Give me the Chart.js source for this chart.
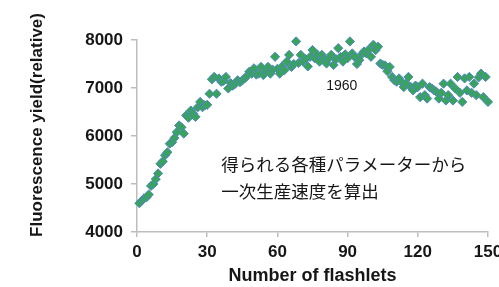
<!DOCTYPE html>
<html>
<head>
<meta charset="utf-8">
<script src="https://cdn.jsdelivr.net/npm/chart.js@4"></script>
<style>
html,body{margin:0;padding:0;background:#fff;}
#wrap{width:499px;height:287px;position:relative;}
</style>
</head>
<body>
<div id="wrap"><canvas id="c" width="499" height="287"></canvas></div>
<script>
// Data
const flashlets = [
  1,2,3,4,5,6,7,8,9,10,11,12,13,14,15,16,17,18,19,20,21,22,23,24,25,26,27,28,29,30,
  31,32,33,34,35,36,37,38,39,40,41,42,43,44,45,46,47,48,49,50,51,52,53,54,55,56,57,58,59,60,
  61,62,63,64,65,66,67,68,69,70,71,72,73,74,75,76,77,78,79,80,81,82,83,84,85,86,87,88,89,90,
  91,92,93,94,95,96,97,98,99,100,101,102,103,104,105,106,107,108,109,110,111,112,113,114,115,116,117,118,119,120,
  121,122,123,124,125,126,127,128,129,130,131,132,133,134,135,136,137,138,139,140,141,142,143,144,145,146,147,148,149,150
];
const fluorescence = [
  4600,4650,4700,4720,4780,4960,5000,5100,5220,5420,5470,5600,5660,5840,5870,5960,6080,6220,6180,6050,6430,6380,6530,6470,6400,6600,6710,6600,6640,6650,
  6880,7180,7230,6880,7200,7130,7150,7230,6990,7100,7050,7090,7160,7120,7160,7200,7250,7340,7300,7410,7280,7300,7440,7270,7350,7440,7300,7380,7650,7400,
  7300,7450,7370,7550,7690,7440,7500,7970,7520,7690,7550,7600,7450,7650,7790,7620,7700,7550,7690,7600,7510,7620,7690,7480,7600,7830,7650,7550,7700,7620,
  7970,7720,7650,7500,7580,7700,7760,7720,7800,7650,7900,7790,7860,7510,7480,7470,7350,7440,7230,7160,7130,7200,7130,7020,7100,7230,7020,6950,7050,7020,
  6810,7090,6850,6780,7020,6990,6950,6920,6780,6900,7090,6740,6850,7090,6740,6990,7230,6900,6710,7200,6950,7230,6900,7090,6850,7220,7300,6810,7230,6710
];
const xTicks = [0,30,60,90,120,150];
const yTicks = [4000,5000,6000,7000,8000];
const xTitle = 'Number of flashlets';
const yTitle = 'Fluorescence yield(relative)';
const noteLabel = '1960';
const noteLines = ['得られる各種パラメーターから','一次生産速度を算出'];

const points = flashlets.map((x,i)=>({x:x,y:fluorescence[i]}));

const textPlugin = {
  id:'texts',
  afterDraw(chart){
    const ctx = chart.ctx;
    const xs = chart.scales.x, ys = chart.scales.y;
    ctx.save();
    ctx.translate(37, 125);
    ctx.rotate(-Math.PI/2);
    ctx.font = 'bold 17px "Liberation Sans", Arial, sans-serif';
    ctx.fillStyle = '#161616';
    ctx.textAlign = 'center';
    ctx.textBaseline = 'middle';
    ctx.fillText(yTitle, 0, 0);
    ctx.restore();

    ctx.save();
    ctx.fillStyle = '#161616';
    ctx.textBaseline = 'middle';
    ctx.font = '14px "Liberation Sans", Arial, sans-serif';
    ctx.textAlign = 'center';
    ctx.fillText(noteLabel, xs.getPixelForValue(87.5), ys.getPixelForValue(7040));
    ctx.font = '17.5px "Noto Sans CJK JP", sans-serif';
    ctx.textAlign = 'left';
    ctx.fillText(noteLines[0], xs.getPixelForValue(36), ys.getPixelForValue(5400));
    ctx.fillText(noteLines[1], xs.getPixelForValue(36), ys.getPixelForValue(4855));
    ctx.restore();
  }
};

new Chart(document.getElementById('c'), {
  type:'scatter',
  data:{datasets:[{
    data:points,
    pointStyle:'rectRot',
    radius:4.6,
    hoverRadius:4.6,
    backgroundColor:'#38a45a',
    borderColor:'#5286c4',
    borderWidth:1,
    clip:false
  }]},
  options:{
    responsive:false,
    animation:false,
    devicePixelRatio:1,
    layout:{padding:{left:23,right:11,top:40,bottom:0}},
    plugins:{legend:{display:false},tooltip:{enabled:false}},
    scales:{
      x:{
        type:'linear', min:0, max:150,
        afterBuildTicks(s){ s.ticks = xTicks.map(v=>({value:v})); },
        afterFit(s){ s.height = 55; s.paddingLeft = 0; s.paddingRight = 0; },
        border:{color:'#bdbdbd', width:1.5},
        grid:{drawOnChartArea:false, color:'#bdbdbd', tickLength:5, lineWidth:1.5},
        ticks:{autoSkip:false, maxRotation:0, padding:5, color:'#161616',
          callback:(v)=>String(v),
          font:{family:'"Liberation Sans", Arial, sans-serif', size:17, weight:'bold'}},
        title:{display:true, text:xTitle, color:'#161616', padding:{top:0,bottom:0},
          font:{family:'"Liberation Sans", Arial, sans-serif', size:18, weight:'bold'}}
      },
      y:{
        type:'linear', min:4000, max:8000,
        afterBuildTicks(s){ s.ticks = yTicks.map(v=>({value:v})); },
        afterFit(s){ s.width = 114; s.paddingTop = 0; s.paddingBottom = 0; },
        border:{color:'#bdbdbd', width:1.5},
        grid:{drawOnChartArea:false, color:'#bdbdbd', tickLength:6, lineWidth:1.5},
        ticks:{padding:8, color:'#161616',
          callback:(v)=>String(v),
          font:{family:'"Liberation Sans", Arial, sans-serif', size:17, weight:'bold'}}
      }
    }
  },
  plugins:[textPlugin]
});
</script>
</body>
</html>
